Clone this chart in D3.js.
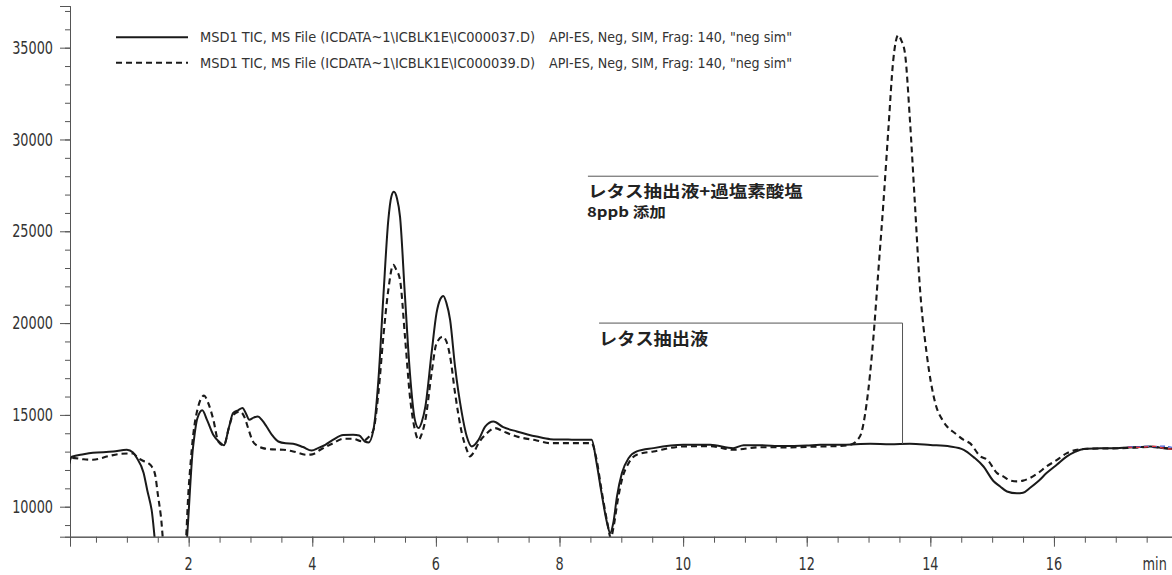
<!DOCTYPE html>
<html>
<head>
<meta charset="utf-8">
<script src="https://cdn.jsdelivr.net/npm/d3@7"></script>
<style>
  html, body { margin: 0; padding: 0; background: #fff; }
  svg { display: block; }
  .lbl { font-family: 'DejaVu Sans Condensed', 'DejaVu Sans', sans-serif; fill: #333; }
  .cjk { font-family: 'Noto Sans CJK JP', sans-serif; font-weight: 700; fill: #222; }
</style>
</head>
<body>
<svg id="chart" width="1172" height="575"></svg>
<script>
// ---- Data (retention time in min, TIC abundance) ----
const solidTime = [0.05,0.11,0.30,0.45,0.78,1.00,1.10,1.16,1.27,1.33,1.40,1.50,1.93,2.07,2.14,2.22,2.30,2.40,2.51,2.57,2.65,2.72,2.80,2.87,2.93,2.98,3.05,3.12,3.19,3.26,3.35,3.45,3.57,3.69,3.85,3.99,4.10,4.21,4.34,4.50,4.66,4.76,4.85,4.91,4.99,5.07,5.15,5.23,5.28,5.32,5.37,5.42,5.50,5.58,5.66,5.72,5.77,5.83,5.93,6.01,6.07,6.12,6.17,6.23,6.31,6.42,6.50,6.58,6.69,6.80,6.93,7.09,7.31,7.63,7.85,8.20,8.52,8.60,8.68,8.77,8.82,8.87,8.93,9.01,9.12,9.25,9.52,10.00,10.44,10.81,10.98,11.25,11.60,12.00,12.22,12.60,13.03,13.35,13.67,14.00,14.32,14.54,14.70,14.86,15.02,15.13,15.24,15.40,15.50,15.61,15.75,15.88,16.05,16.21,16.35,16.48,16.75,17.02,17.20,17.40,17.56,17.75,17.91];
const solidValue = [12120,12720,12860,12940,13000,13100,12950,12660,11850,10900,9840,7200,7200,13210,14800,15250,14700,13900,13480,13340,14300,15110,15250,15380,15050,14730,14850,14910,14700,14370,13900,13550,13450,13430,13250,13060,13200,13370,13650,13900,13920,13880,13550,13500,14200,16910,21440,25610,26900,27150,26800,25790,21440,17270,14730,14280,14600,15460,18360,20540,21300,21480,21100,20170,17630,15100,13820,13280,13640,14370,14640,14330,14100,13820,13680,13650,13640,12380,10750,9110,8570,9110,10560,11830,12650,13010,13190,13370,13370,13190,13350,13350,13300,13330,13370,13380,13430,13400,13430,13360,13280,13100,12700,12190,11400,11100,10830,10730,10760,11020,11400,11830,12300,12740,13000,13140,13180,13190,13230,13250,13280,13200,13140];

const dashedTime = [0.05,0.11,0.30,0.45,0.70,0.90,1.10,1.18,1.26,1.34,1.40,1.46,1.50,1.55,1.62,1.93,2.00,2.07,2.15,2.25,2.31,2.40,2.48,2.57,2.65,2.72,2.83,2.90,2.96,3.04,3.12,3.20,3.35,3.53,3.69,3.91,4.00,4.13,4.34,4.50,4.66,4.80,4.90,4.99,5.07,5.15,5.23,5.31,5.36,5.42,5.50,5.58,5.66,5.72,5.77,5.83,5.93,6.01,6.11,6.17,6.23,6.31,6.42,6.50,6.55,6.62,6.69,6.80,6.96,7.09,7.31,7.63,7.85,8.52,8.60,8.68,8.77,8.83,8.88,8.94,9.01,9.12,9.25,9.52,10.00,10.44,10.81,11.25,11.70,12.22,12.50,12.70,12.86,12.97,13.08,13.16,13.24,13.32,13.40,13.48,13.53,13.59,13.67,13.75,13.83,13.94,14.08,14.20,14.27,14.40,14.54,14.64,14.81,14.92,15.08,15.18,15.30,15.40,15.50,15.61,15.75,15.88,16.05,16.21,16.48,16.75,17.02,17.30,17.56,17.75,17.91];
const dashedValue = [12190,12660,12580,12560,12750,12880,12900,12660,12500,12390,12200,11700,10700,9500,7200,7200,11000,13800,15400,16050,15700,14730,13550,13340,14300,15000,15180,14900,14300,13550,13300,13190,13120,13100,13010,12830,12850,13100,13460,13700,13700,13560,13750,14190,16190,19260,21800,23170,22900,22350,19260,16000,14190,13640,13950,14730,17270,18900,19260,19000,18180,16190,14010,13100,12740,13000,13460,13920,14280,14100,13820,13610,13460,13460,12560,10900,9200,8300,9000,10300,11470,12380,12830,13010,13280,13300,13100,13240,13230,13280,13300,13370,13820,15640,19260,22890,26520,30510,34320,35680,35400,34680,31050,26520,21990,18360,15640,14700,14370,14000,13640,13460,12740,12560,11830,11650,11420,11380,11420,11560,11850,12190,12550,12920,13140,13170,13180,13220,13250,13200,13160];

// short coloured traces visible at the far right
const tailTime = [17.20,17.35,17.50,17.62,17.75,17.91];
const redValue = [13240,13230,13260,13290,13200,13130];
const blueValue = [13270,13260,13290,13270,13300,13230];

const xMajorTicks = [2,4,6,8,10,12,14,16];
const xMinorTicks = d3.range(0.5, 17.6, 0.5);
const yMajorTicks = [10000,15000,20000,25000,30000,35000];
const yMinorTicks = d3.range(9000, 37001, 1000);
const xUnit = 'min';

const legendLabels = ['MSD1 TIC, MS File (ICDATA~1\\ICBLK1E\\IC000037.D)', 'MSD1 TIC, MS File (ICDATA~1\\ICBLK1E\\IC000039.D)'];
const legendSuffix = 'API-ES, Neg, SIM, Frag: 140, "neg sim"';
const annoSpiked = ['レタス抽出液+過塩素酸塩', '8ppb 添加'];
const annoBlank = 'レタス抽出液';

// ---- Layout ----
const svg = d3.select('#chart');
const pLeft = 70, pRight = 1172, pTop = 6, pBottom = 536.7;
const x = d3.scaleLinear().domain([0.08, 17.91]).range([pLeft, pRight]);
const y = d3.scaleLinear().domain([8366, 37270]).range([pBottom, pTop]);
const axisColor = '#555';
const sq = 0.84;   // horizontal squeeze to mimic a condensed face

svg.append('defs').append('clipPath').attr('id', 'plot')
  .append('rect').attr('x', pLeft).attr('y', pTop).attr('width', pRight - pLeft).attr('height', pBottom - pTop);

// x axis (lines/ticks from d3 axis, labels drawn in a squeezed group)
const gx = svg.append('g').attr('transform', `translate(0,${pBottom})`);
gx.append('g').call(d3.axisBottom(x).tickValues(xMinorTicks).tickSize(6).tickFormat(''));
gx.append('g').call(d3.axisBottom(x).tickValues(xMajorTicks).tickSize(10).tickFormat(''));
gx.selectAll('path.domain').attr('stroke', axisColor);
gx.selectAll('line').attr('stroke', axisColor);
const xl = svg.append('g').attr('transform', `scale(${sq},1)`);
xl.selectAll('text.xt').data(xMajorTicks).join('text').attr('class', 'lbl xt')
  .attr('x', d => x(d) / sq).attr('y', 570).attr('text-anchor', 'middle')
  .attr('font-size', 17).text(d => d);
xl.append('text').attr('class', 'lbl').attr('x', x(17.63) / sq).attr('y', 570)
  .attr('text-anchor', 'middle').attr('font-size', 17).text(xUnit);

// y axis
const gy = svg.append('g').attr('transform', `translate(${pLeft},0)`);
gy.append('g').call(d3.axisLeft(y).tickValues(yMinorTicks).tickSize(5).tickFormat(''));
gy.append('g').call(d3.axisLeft(y).tickValues(yMajorTicks).tickSize(10).tickFormat(''));
gy.selectAll('path.domain').attr('stroke', axisColor);
gy.selectAll('line').attr('stroke', axisColor);
const yl = svg.append('g').attr('transform', `translate(53,0) scale(${sq},1)`);
yl.selectAll('text.yt').data(yMajorTicks).join('text').attr('class', 'lbl yt')
  .attr('x', 0).attr('y', d => y(d)).attr('dy', '0.36em').attr('text-anchor', 'end')
  .attr('font-size', 17).text(d => d);

// traces
const line = d3.line().x(d => x(d[0])).y(d => y(d[1])).curve(d3.curveMonotoneX);
const plot = svg.append('g').attr('clip-path', 'url(#plot)');
const solid = solidTime.map((t, i) => [t, solidValue[i]]);
const dashed = dashedTime.map((t, i) => [t, dashedValue[i]]);
plot.append('path').datum(dashed).attr('d', line).attr('fill', 'none')
  .attr('stroke', '#1a1a1a').attr('stroke-width', 2.1).attr('stroke-dasharray', '6,4');
plot.append('path').datum(solid).attr('d', line).attr('fill', 'none')
  .attr('stroke', '#1a1a1a').attr('stroke-width', 2);
plot.append('path').datum(tailTime.map((t, i) => [t, blueValue[i]])).attr('d', line)
  .attr('fill', 'none').attr('stroke', '#4a62d8').attr('stroke-width', 1.3).attr('stroke-dasharray', '5,3');
plot.append('path').datum(tailTime.map((t, i) => [t, redValue[i]])).attr('d', line)
  .attr('fill', 'none').attr('stroke', '#e8323a').attr('stroke-width', 1.3).attr('stroke-dasharray', '4,4');

// legend
const legend = svg.append('g');
[0, 1].forEach(i => {
  const ly = 37.3 + i * 25.4;
  legend.append('line').attr('x1', 116).attr('x2', 188).attr('y1', ly).attr('y2', ly)
    .attr('stroke', '#1a1a1a').attr('stroke-width', 2)
    .attr('stroke-dasharray', i ? '6,4' : null);
  legend.append('text').attr('class', 'lbl').attr('x', 200).attr('y', ly + 5)
    .attr('font-size', 14).attr('fill', '#222')
    .attr('textLength', 335).attr('lengthAdjust', 'spacingAndGlyphs').text(legendLabels[i]);
  legend.append('text').attr('class', 'lbl').attr('x', 549).attr('y', ly + 5)
    .attr('font-size', 14).attr('fill', '#222')
    .attr('textLength', 243).attr('lengthAdjust', 'spacingAndGlyphs').text(legendSuffix);
});

// annotations
const ann = svg.append('g');
const a1 = { t0: 8.46, t1: 13.16, v: 28000 };
ann.append('line').attr('x1', x(a1.t0)).attr('x2', x(a1.t1)).attr('y1', y(a1.v)).attr('y2', y(a1.v))
  .attr('stroke', '#555').attr('stroke-width', 1);
ann.append('text').attr('class', 'cjk').attr('x', x(a1.t0)).attr('y', y(a1.v) + 21)
  .attr('font-size', 16).attr('textLength', 215).attr('lengthAdjust', 'spacingAndGlyphs').text(annoSpiked[0]);
ann.append('text').attr('class', 'cjk').attr('x', x(a1.t0) - 1).attr('y', y(a1.v) + 41)
  .attr('font-size', 14).attr('textLength', 79).attr('lengthAdjust', 'spacingAndGlyphs').text(annoSpiked[1]);

const a2 = { t0: 8.64, t1: 13.55, v: 20000, vEnd: 13420 };
ann.append('path')
  .attr('d', `M${x(a2.t0)},${y(a2.v)}H${x(a2.t1)}V${y(a2.vEnd)}`)
  .attr('fill', 'none').attr('stroke', '#555').attr('stroke-width', 1);
ann.append('text').attr('class', 'cjk').attr('x', x(a2.t0)).attr('y', y(a2.v) + 22)
  .attr('font-size', 17).attr('textLength', 109).attr('lengthAdjust', 'spacingAndGlyphs').text(annoBlank);
</script>
</body>
</html>
